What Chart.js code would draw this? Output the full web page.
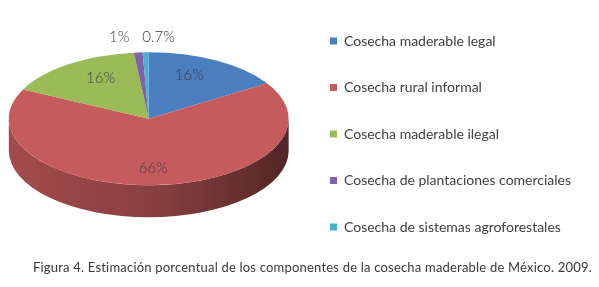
<!DOCTYPE html>
<html>
<head>
<meta charset="utf-8">
<script src="https://cdn.jsdelivr.net/npm/chart.js@4.4.1/dist/chart.umd.min.js"></script>
<style>
  body { margin: 0; background: #fff; }
  #wrap { position: relative; width: 599px; height: 287px; }
  #caption {
    position: absolute; left: 33px; top: 259px;
    font-family: Lato, "Open Sans", sans-serif; font-size: 13px; line-height: 16px;
    letter-spacing: 0.2px; color: #3a3a3a; white-space: nowrap;
  }
</style>
</head>
<body>
<div id="wrap">
  <canvas id="myChart" width="599" height="287"></canvas>
  <div id="caption"></div>
</div>
<script>
const categories = [
  'Cosecha maderable legal',
  'Cosecha rural informal',
  'Cosecha maderable ilegal',
  'Cosecha de plantaciones comerciales',
  'Cosecha de sistemas agroforestales'
];
const shares = [16, 66, 16, 1, 0.7];
const sliceColors = ['#4a7ebf', '#c65b5d', '#9bbb59', '#7f62a8', '#4bb0d0'];
const caption = 'Figura 4. Estimación porcentual de los componentes de la cosecha maderable de México. 2009.';

const FONT = 'Lato, "Open Sans", sans-serif';
const TEXT_COLOR = '#404040';
const DEPTH = 32;        // height of the pie wall
const STRETCH = 1.05;    // horizontal radius / library radius
const TILT = 0.475;      // vertical radius / horizontal radius
const LEGEND_X = 340;    // left edge of the legend boxes
const LEGEND_SIZE = 14;

document.getElementById('caption').textContent = caption;

function shade(hex, f) {
  const n = parseInt(hex.slice(1), 16);
  const r = Math.round(((n >> 16) & 255) * f);
  const g = Math.round(((n >> 8) & 255) * f);
  const b = Math.round((n & 255) * f);
  return `rgb(${r},${g},${b})`;
}

function geometry(arc) {
  const rx = arc.outerRadius * STRETCH;
  return { cx: arc.x, cy: arc.y - DEPTH / 2, rx: rx, ry: rx * TILT };
}

// parts of a slice that face the viewer (lower half of the ellipse)
function frontRanges(s, e) {
  const out = [];
  [0, 2 * Math.PI].forEach(off => {
    const lo = Math.max(s, off), hi = Math.min(e, Math.PI + off);
    if (hi > lo) out.push([lo, hi]);
  });
  return out;
}

const pie3d = {
  id: 'pie3d',
  beforeDatasetsDraw(chart) {
    const ctx = chart.ctx;
    const meta = chart.getDatasetMeta(0);
    const first = meta.data[0];
    const g = geometry(first);

    meta.data.forEach(arc => {
      const color = arc.options.backgroundColor;
      frontRanges(arc.startAngle, arc.endAngle).forEach(([a, b]) => {
        const grad = ctx.createLinearGradient(g.cx - g.rx, 0, g.cx + g.rx, 0);
        grad.addColorStop(0, shade(color, 0.82));
        grad.addColorStop(0.55, shade(color, 0.68));
        grad.addColorStop(1, shade(color, 0.42));
        ctx.beginPath();
        ctx.ellipse(g.cx, g.cy, g.rx, g.ry, 0, a, b);
        ctx.ellipse(g.cx, g.cy + DEPTH, g.rx, g.ry, 0, b, a, true);
        ctx.closePath();
        ctx.fillStyle = grad;
        ctx.fill();
      });
    });

    // squash the top face into an ellipse
    ctx.save();
    ctx.translate(g.cx, g.cy);
    ctx.scale(g.rx / first.outerRadius, g.ry / first.outerRadius);
    ctx.translate(-first.x, -first.y);
  },
  afterDatasetsDraw(chart) {
    const ctx = chart.ctx;
    ctx.restore();

    const meta = chart.getDatasetMeta(0);
    const g = geometry(meta.data[0]);
    ctx.save();
    ctx.font = '300 15px ' + FONT;
    ctx.fillStyle = TEXT_COLOR;
    ctx.textAlign = 'center';
    ctx.textBaseline = 'middle';

    const small = [];
    meta.data.forEach((arc, i) => {
      const mid = (arc.startAngle + arc.endAngle) / 2;
      const text = String(shares[i]) + '%';
      if (shares[i] >= 5) {
        ctx.fillText(text, g.cx + g.rx * 0.6 * Math.cos(mid), g.cy + g.ry * 0.75 * Math.sin(mid));
      } else {
        small.push({ text, x: g.cx + g.rx * Math.cos(mid), w: ctx.measureText(text).width });
      }
    });

    // small slices: one row above the pie, side by side
    if (small.length) {
      const gap = 13;
      small.sort((p, q) => p.x - q.x);
      const total = small.reduce((s, p) => s + p.w, 0) + gap * (small.length - 1);
      let x = small.reduce((s, p) => s + p.x, 0) / small.length - total / 2;
      const y = g.cy - g.ry - 15;
      small.forEach(p => {
        ctx.fillText(p.text, x + p.w / 2, y);
        x += p.w + gap;
      });
    }
    ctx.restore();
  }
};

// place the legend so its boxes start at LEGEND_X
const measure = document.createElement('canvas').getContext('2d');
measure.font = LEGEND_SIZE + 'px ' + FONT;
const longest = Math.max(...categories.map(c => measure.measureText(c).width));
const padRight = Math.max(0, 599 - LEGEND_X - (7 + LEGEND_SIZE / 2 + longest));

const ctx = document.getElementById('myChart').getContext('2d');
new Chart(ctx, {
  type: 'pie',
  data: {
    labels: categories,
    datasets: [{
      data: shares,
      backgroundColor: sliceColors,
      borderWidth: 0,
      clip: false
    }]
  },
  options: {
    responsive: false,
    animation: false,
    events: [],
    layout: {
      padding: { top: 1.5, bottom: 19, left: 0, right: padRight }
    },
    plugins: {
      legend: {
        position: 'right',
        align: 'start',
        labels: {
          boxWidth: 7,
          boxHeight: 7,
          padding: 32.5,
          color: TEXT_COLOR,
          font: { family: FONT, size: LEGEND_SIZE }
        }
      },
      tooltip: { enabled: false }
    }
  },
  plugins: [pie3d]
});
</script>
</body>
</html>
